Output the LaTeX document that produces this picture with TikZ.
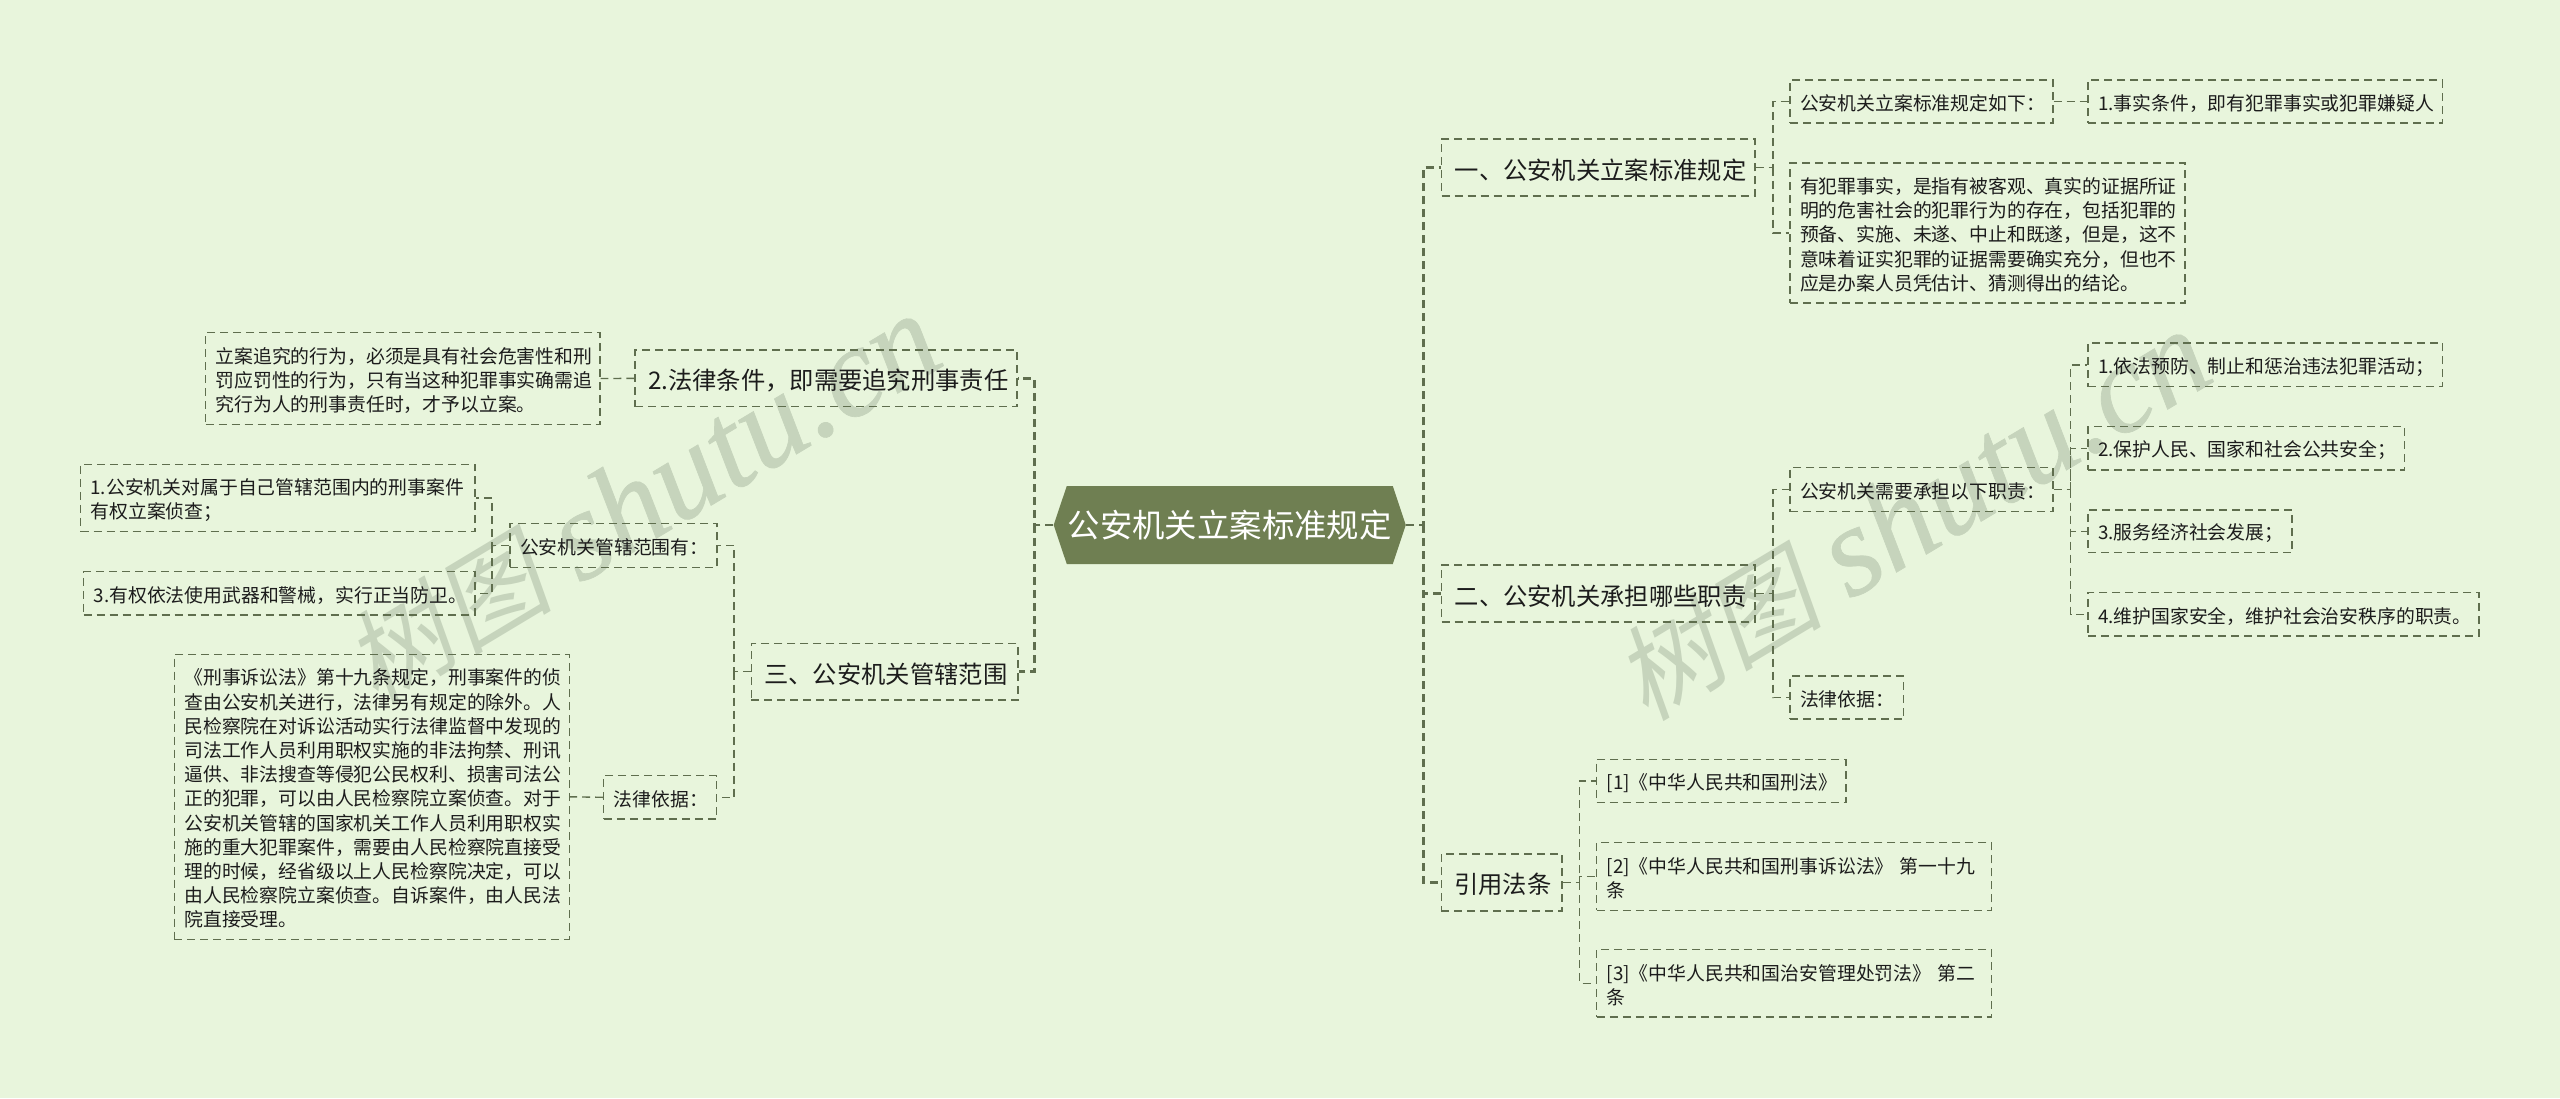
\documentclass[tikz,border=0pt]{standalone}
\usepackage{fontspec}
\usetikzlibrary{shapes.symbols}
\setmainfont{Noto Sans CJK SC}
\newfontfamily\markfont[FakeSlant=0.2]{Noto Sans CJK SC}
\newfontfamily\marklatin[FakeBold=0.5]{Liberation Serif Italic}
\definecolor{pagegreen}{HTML}{E8F5DC}
\definecolor{rootgreen}{HTML}{6F7F52}
\definecolor{linegreen}{HTML}{5F6E4E}
\definecolor{markgreen}{HTML}{C6D4BC}
\definecolor{inkgray}{HTML}{1C1C1C}
\tikzset{
	boxsize/.style 2 args={text width=#1*0.5pt-10pt,minimum height=#2*0.5pt},
	branchsize/.style 2 args={text width=#1*0.5pt-13pt,minimum height=#2*0.5pt},
	leaf/.style={draw=linegreen,line width=0.7pt,dash pattern=on 4pt off 2.5pt,align=left,inner xsep=5pt,inner ysep=0pt,text=inkgray,font=\fontsize{9.42}{12.1}\selectfont,execute at begin node=\rule{0pt}{1.04em}},
	branch/.style={leaf,inner xsep=6.5pt,font=\fontsize{12.15}{15}\selectfont},
	thinline/.style={draw=linegreen,line width=0.7pt,dash pattern=on 4pt off 2.5pt},
	busline/.style={draw=linegreen,line width=1.4pt,dash pattern=on 4pt off 2.5pt},
	watermark/.style={text=markgreen,rotate=31,anchor=center,inner sep=0pt}
}
\begin{document}
\begin{tikzpicture}[x=0.5pt,y=-0.5pt]
		\fill[pagegreen] (0,0) rectangle (2560,1098);
		\useasboundingbox (0,0) rectangle (2560,1098);
		% watermarks
		\node[watermark] (markleft) at (642,500) {\fontsize{64}{64}\selectfont{\markfont\fontsize{52}{52}\selectfont 树图} {\marklatin shutu.cn}};
		\node[watermark] (markright) at (1912,516) {\fontsize{64}{64}\selectfont{\markfont\fontsize{52}{52}\selectfont 树图} {\marklatin shutu.cn}};
		% root
		\node[signal,signal to=east and west,signal pointer angle=143,fill=rootgreen,text=white,font=\fontsize{16.2}{16}\selectfont,minimum height=39pt,inner xsep=0pt,inner ysep=0pt,text width=163pt,align=center] (root) at (1229.75,525) {公安机关立案标准规定};
		% right side
		\node[branch,branchsize={313.3}{57}] (secone) at (1598.35,167.5) {一、公安机关立案标准规定};
		\node[branch,branchsize={313.3}{57}] (sectwo) at (1598.35,593.5) {二、公安机关承担哪些职责};
		\node[branch,branchsize={120.8}{57}] (seccite) at (1501.6,882.3) {引用法条};
		\node[leaf,boxsize={263}{43}] (stdhead) at (1921.5,101.5) {公安机关立案标准规定如下：};
		\node[leaf,boxsize={354.5}{43}] (stdfact) at (2265.25,101.5) {1.事实条件，即有犯罪事实或犯罪嫌疑人};
		\node[leaf,boxsize={395}{140}] (stddetail) at (1987.5,233) {有犯罪事实，是指有被客观、真实的证据所证\\明的危害社会的犯罪行为的存在，包括犯罪的\\预备、实施、未遂、中止和既遂，但是，这不\\意味着证实犯罪的证据需要确实充分，但也不\\应是办案人员凭估计、猜测得出的结论。};
		\node[leaf,boxsize={263}{44}] (dutyhead) at (1921.5,489.7) {公安机关需要承担以下职责：};
		\node[leaf,boxsize={354.5}{43.7}] (dutyone) at (2265.25,364.8) {1.依法预防、制止和惩治违法犯罪活动；};
		\node[leaf,boxsize={316.7}{43.3}] (dutytwo) at (2246.35,448.3) {2.保护人民、国家和社会公共安全；};
		\node[leaf,boxsize={204}{42.7}] (dutythree) at (2190,531.3) {3.服务经济社会发展；};
		\node[leaf,boxsize={391}{43.3}] (dutyfour) at (2283.5,614.3) {4.维护国家安全，维护社会治安秩序的职责。};
		\node[leaf,boxsize={113.5}{43}] (dutylaw) at (1846.75,697.5) {法律依据：};
		\node[leaf,boxsize={249.3}{43}] (citeone) at (1721.35,780.8) {[1]《中华人民共和国刑法》};
		\node[leaf,boxsize={395}{67.6}] (citetwo) at (1794.25,876.5) {[2]《中华人民共和国刑事诉讼法》 第一十九\\条};
		\node[leaf,boxsize={395}{67.3}] (citethree) at (1794.25,983.3) {[3]《中华人民共和国治安管理处罚法》 第二\\条};
		% left side
		\node[branch,branchsize={382}{56.7}] (seccond) at (826,378.4) {2.法律条件，即需要追究刑事责任};
		\node[branch,branchsize={266.7}{56.7}] (secscope) at (884.65,671.6) {三、公安机关管辖范围};
		\node[leaf,boxsize={394.5}{91.6}] (conddetail) at (402.75,378.5) {立案追究的行为，必须是具有社会危害性和刑\\罚应罚性的行为，只有当这种犯罪事实确需追\\究行为人的刑事责任时，才予以立案。};
		\node[leaf,boxsize={207}{44}] (scopehead) at (613.5,545.3) {公安机关管辖范围有：};
		\node[leaf,boxsize={394.5}{67.4}] (scopeone) at (277.75,498) {1.公安机关对属于自己管辖范围内的刑事案件\\有权立案侦查；};
		\node[leaf,boxsize={391.3}{43.3}] (scopethree) at (279.35,593.3) {3.有权依法使用武器和警械，实行正当防卫。};
		\node[leaf,boxsize={113}{43.3}] (scopelaw) at (660.25,797.3) {法律依据：};
		\node[leaf,boxsize={394.9}{285}] (scopedetail) at (371.85,796.8) {《刑事诉讼法》第十九条规定，刑事案件的侦\\查由公安机关进行，法律另有规定的除外。人\\民检察院在对诉讼活动实行法律监督中发现的\\司法工作人员利用职权实施的非法拘禁、刑讯\\逼供、非法搜查等侵犯公民权利、损害司法公\\正的犯罪，可以由人民检察院立案侦查。对于\\公安机关管辖的国家机关工作人员利用职权实\\施的重大犯罪案件，需要由人民检察院直接受\\理的时候，经省级以上人民检察院决定，可以\\由人民检察院立案侦查。自诉案件，由人民法\\院直接受理。};
		% bus points
		\coordinate (rootbusr) at (1423.5,525);
		\coordinate (rootbusl) at (1034.5,525);
		\coordinate (stdbus) at (1773,167.5);
		\coordinate (dutybus) at (1773,593.5);
		\coordinate (dutysubbus) at (2070.7,489.7);
		\coordinate (citebus) at (1579.6,882.3);
		\coordinate (scopebus) at (734,671.6);
		\coordinate (scopesubbus) at (492,545.3);
		% connectors
		\draw[busline] (root.east) -- (rootbusr) |- (secone.west);
		\draw[busline] (rootbusr) |- (sectwo.west);
		\draw[busline] (rootbusr) |- (seccite.west);
		\draw[busline] (root.west) -- (rootbusl) |- (seccond.east);
		\draw[busline] (rootbusl) |- (secscope.east);
		\draw[thinline] (secone.east) -- (stdbus) |- (stdhead.west);
		\draw[thinline] (stdbus) |- (stddetail.west);
		\draw[thinline] (stdhead.east) -- (stdfact.west);
		\draw[thinline] (sectwo.east) -- (dutybus) |- (dutyhead.west);
		\draw[thinline] (dutybus) |- (dutylaw.west);
		\draw[thinline] (dutyhead.east) -- (dutysubbus) |- (dutyone.west);
		\draw[thinline] (dutysubbus) |- (dutytwo.west);
		\draw[thinline] (dutysubbus) |- (dutythree.west);
		\draw[thinline] (dutysubbus) |- (dutyfour.west);
		\draw[thinline] (seccite.east) -- (citebus) |- (citeone.west);
		\draw[thinline] (citebus) |- (citetwo.west);
		\draw[thinline] (citebus) |- (citethree.west);
		\draw[thinline] (seccond.west) -- (conddetail.east);
		\draw[thinline] (secscope.west) -- (scopebus) |- (scopehead.east);
		\draw[thinline] (scopebus) |- (scopelaw.east);
		\draw[thinline] (scopelaw.west) -- (scopedetail.east);
		\draw[thinline] (scopehead.west) -- (scopesubbus) |- (scopeone.east);
		\draw[thinline] (scopesubbus) |- (scopethree.east);
		\end{tikzpicture}
\end{document}
